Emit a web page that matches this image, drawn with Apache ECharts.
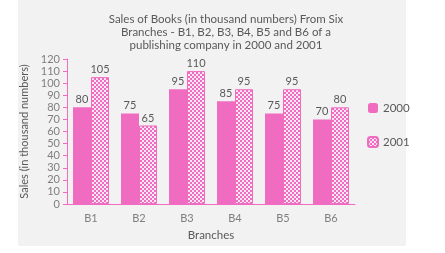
<!DOCTYPE html>
<html>
<head>
<meta charset="utf-8">
<script src="https://cdn.jsdelivr.net/npm/echarts@6/dist/echarts.min.js"></script>
<style>
html,body{margin:0;padding:0;background:#fff;}
#chart{width:445px;height:253px;}
</style>
</head>
<body>
<div id="chart"></div>
<script>
const branches = ['B1', 'B2', 'B3', 'B4', 'B5', 'B6'];
const sales2000 = [80, 75, 95, 85, 75, 70];
const sales2001 = [105, 65, 110, 95, 95, 80];
const seriesNames = ['2000', '2001'];

const pink = '#f06cc0';
const textColor = '#595959';

// small checker tile for the 2001 bars
function checker(){
    let c = document.createElement('canvas');
    c.width = 4; c.height = 4;
    let ctx = c.getContext('2d');
    ctx.fillStyle = '#fde6f4';
    ctx.fillRect(0, 0, 4, 4);
    ctx.fillStyle = pink;
    ctx.fillRect(0, 0, 2, 2);
    ctx.fillRect(2, 2, 2, 2);
    return c;
}

let chart = echarts.init(document.getElementById('chart'), null, {renderer: 'canvas'});
let labelStyle = {show: true, position: 'top', distance: 2, color: textColor, fontSize: 11, fontFamily: 'Lato'};

chart.setOption({
    animation: false,
    backgroundColor: '#fff',
    textStyle: {fontFamily: 'Lato'},
    graphic: [{
        type: 'rect', z: -10,
        shape: {x: 18, y: 0, width: 388, height: 246},
        style: {fill: '#f2f2f2'}
    }],
    title: {
        text: 'Sales of Books (in thousand numbers) From Six\nBranches - B1, B2, B3, B4, B5 and B6 of a\npublishing company in 2000 and 2001',
        left: 221, top: 8, textAlign: 'center',
        textStyle: {fontSize: 11.5, fontWeight: 'normal', color: textColor, lineHeight: 13, fontFamily: 'Lato'}
    },
    legend: {
        orient: 'vertical', left: 362, top: 97,
        itemWidth: 10, itemHeight: 10, itemGap: 22,
        textStyle: {fontSize: 11.5, color: textColor, fontFamily: 'Lato'},
        data: seriesNames
    },
    grid: {left: 67, right: 90, top: 59, bottom: 49},
    xAxis: {
        type: 'category',
        data: branches,
        name: 'Branches', nameLocation: 'middle', nameGap: 24,
        nameTextStyle: {fontSize: 11.5, color: textColor},
        axisLine: {lineStyle: {color: pink}},
        axisTick: {lineStyle: {color: pink}, length: 4},
        axisLabel: {color: '#7f7f7f', fontSize: 11, margin: 9}
    },
    yAxis: {
        type: 'value', min: 0, max: 120, interval: 10,
        name: 'Sales (in thousand numbers)', nameLocation: 'middle', nameGap: 30,
        nameTextStyle: {fontSize: 11, color: textColor},
        axisLine: {show: true, lineStyle: {color: pink}},
        axisTick: {show: true, lineStyle: {color: pink}, length: 4},
        axisLabel: {color: '#7f7f7f', fontSize: 11, margin: 7},
        splitLine: {show: false}
    },
    series: [{
        name: seriesNames[0], type: 'bar',
        data: sales2000,
        barWidth: 18, barGap: '0%',
        itemStyle: {color: pink},
        label: labelStyle
    }, {
        name: seriesNames[1], type: 'bar',
        data: sales2001,
        barWidth: 18,
        itemStyle: {color: {image: checker(), repeat: 'repeat'}, borderColor: pink, borderWidth: 1},
        label: labelStyle
    }]
});
</script>
</body>
</html>
